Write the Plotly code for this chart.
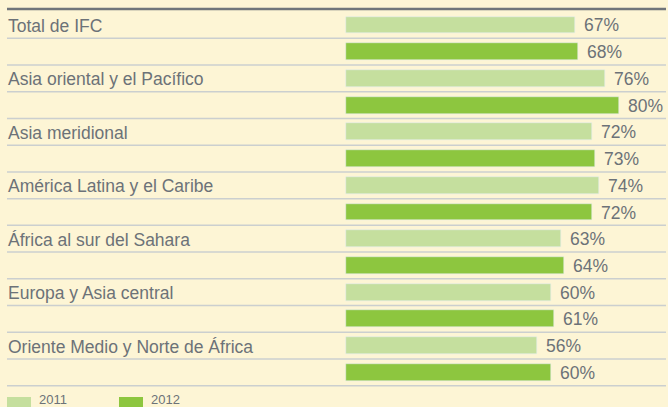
import plotly.graph_objects as go

categories = ["Total de IFC", "Asia oriental y el Pacífico", "Asia meridional",
              "América Latina y el Caribe", "África al sur del Sahara",
              "Europa y Asia central", "Oriente Medio y Norte de África"]
values_2011 = [67, 76, 72, 74, 63, 60, 56]
values_2012 = [68, 80, 73, 72, 64, 61, 60]
series_names = ["2011", "2012"]

BG = "#FDF5D5"
TXT = "#6C7278"
C11 = "#C5DF9E"
C12 = "#8DC63F"
FONT = "Liberation Sans, Arial, sans-serif"

W, H = 668, 407
PX0 = 345.5          # pixel of 0 %
PXPER = 3.42         # pixels per %
ROW = 26.72
TOP = 11.6

xr = [-PX0 / PXPER, (W - PX0) / PXPER]
yr = [-0.5 + (H - TOP) / ROW, -0.5 - TOP / ROW]

n = len(categories)
y11 = [2 * i for i in range(n)]
y12 = [2 * i + 1 for i in range(n)]

fig = go.Figure()
fig.add_trace(go.Bar(x=values_2011, y=y11, orientation="h", marker_color=C11,
                     width=0.63, name=series_names[0], hoverinfo="x"))
fig.add_trace(go.Bar(x=values_2012, y=y12, orientation="h", marker_color=C12,
                     width=0.63, name=series_names[1], hoverinfo="x"))

ann = []
shapes = []
for i, c in enumerate(categories):
    ann.append(dict(x=6 / W, xref="paper", y=y11[i], yref="y", text=c,
                    showarrow=False, xanchor="left", yanchor="middle",
                    yshift=-1, font=dict(family=FONT, size=17.5, color=TXT)))
for ys, vs in ((y11, values_2011), (y12, values_2012)):
    for y, v in zip(ys, vs):
        ann.append(dict(x=v, xref="x", y=y, yref="y", text=f"{v}%",
                        showarrow=False, xanchor="left", yanchor="middle",
                        xshift=7, yshift=-0.5, font=dict(family=FONT, size=17.5, color=TXT)))

# row separators
for k in range(1, 2 * n + 1):
    shapes.append(dict(type="line", xref="paper", yref="y",
                       x0=7 / W, x1=666 / W, y0=k - 0.5, y1=k - 0.5,
                       line=dict(color="#CBCFCF", width=1.5)))
# top rule
shapes.append(dict(type="line", xref="paper", yref="paper",
                   x0=7 / W, x1=666 / W, y0=1 - 9 / H, y1=1 - 9 / H,
                   line=dict(color="#70757A", width=2.5)))

# manual legend
for name, col, lx in ((series_names[0], C11, 7), (series_names[1], C12, 119)):
    shapes.append(dict(type="rect", xref="paper", yref="paper",
                       x0=lx / W, x1=(lx + 24) / W, y0=-0.02, y1=1 - 397 / H,
                       fillcolor=col, line=dict(width=0)))
    ann.append(dict(x=(lx + 30) / W, xref="paper", y=0, yref="paper",
                    text=name, showarrow=False, xanchor="left", yanchor="bottom",
                    yshift=-2, font=dict(family=FONT, size=13, color=TXT)))

fig.update_layout(
    width=W, height=H, margin=dict(l=0, r=0, t=0, b=0),
    paper_bgcolor=BG, plot_bgcolor=BG, showlegend=False,
    bargap=0, barmode="overlay",
    xaxis=dict(range=xr, visible=False, fixedrange=True),
    yaxis=dict(range=yr, visible=False, fixedrange=True),
    annotations=ann, shapes=shapes,
)
fig.write_html("out.html", config={"displayModeBar": False},
               post_script="document.body.style.margin='0';document.body.style.overflow='hidden';")
